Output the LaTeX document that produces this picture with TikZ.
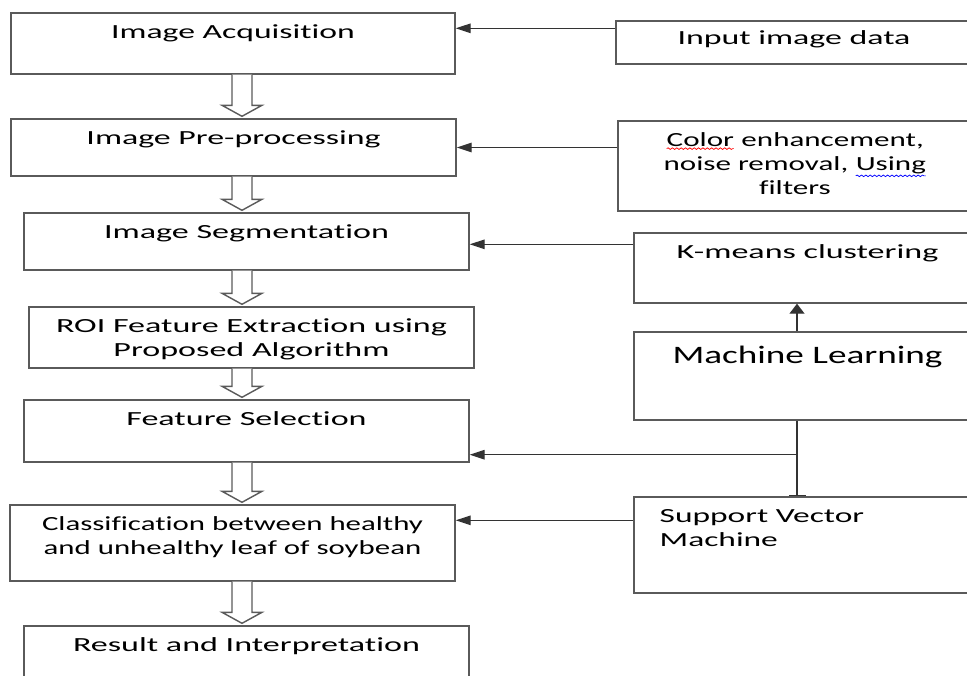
\documentclass[tikz,border=0pt]{standalone}
\usepackage{fontspec}
\setmainfont{Carlito}[Ligatures={NoCommon,NoContextual}, Contextuals=NoAlternate]
\usepackage{graphicx}
\usepackage{pgf, tikz}
\usetikzlibrary{arrows.meta,calc,decorations.pathmorphing}

\definecolor{edgegray}{HTML}{5A5A5A}
\definecolor{linegray}{HTML}{333333}

% wide text, as in the scanned figure: [align]{x-stretch}{text}
\newcommand{\wtxt}[3][c]{\scalebox{#2}[1]{\begin{tabular}{@{}#1@{}}#3\end{tabular}}}
% spell-check squiggle under a word
\newcommand{\wavy}[2]{\tikz[baseline=(w.base)]{\node[inner sep=0pt, outer sep=0pt] (w) {#2};
	\draw[#1, line width=0.35pt, decorate, decoration={snake, amplitude=0.45pt, segment length=1.6pt}] ([yshift=-1.2pt]w.south west) -- ([yshift=-1.2pt]w.south east);}}

\tikzset{
	box/.style={draw=edgegray, line width=0.8pt, inner sep=0pt},
	lbl/.style={anchor=north, inner sep=0pt, yshift=-0.18cm, font=\fontsize{11.4}{13.6}\selectfont},
	hconn/.style={draw=linegray, line width=0.8pt, -{Triangle[length=0.3cm,width=0.19cm]}},
	vconn/.style={draw=linegray, line width=0.8pt, -{Triangle[length=0.2cm,width=0.3cm]}},
	teeconn/.style={draw=linegray, line width=1pt, -{Bar[width=0.34cm]}},
	hollow/.style={draw=edgegray, line width=0.8pt, fill=white}
}

\begin{document}
\begin{tikzpicture}
	\useasboundingbox (0,0) rectangle (19.34,-13.5);
	
	% left column
	\node[box, minimum width=8.88cm, minimum height=1.22cm, label={[lbl]north:\wtxt{1.68}{Image Acquisition}}] (acq) at (4.66,-0.87) {};
	\node[box, minimum width=8.9cm, minimum height=1.14cm, label={[lbl]north:\wtxt{1.69}{Image Pre-processing}}] (pre) at (4.67,-2.95) {};
	\node[box, minimum width=8.9cm, minimum height=1.14cm, label={[lbl]north:\wtxt{1.7}{Image Segmentation}}] (seg) at (4.93,-4.83) {};
	\node[box, minimum width=8.9cm, minimum height=1.22cm, label={[lbl]north:\wtxt{1.7}{ROI Feature Extraction using\\Proposed Algorithm}}] (roi) at (5.03,-6.75) {};
	\node[box, minimum width=8.9cm, minimum height=1.24cm, label={[lbl]north:\wtxt{1.7}{Feature Selection}}] (fsel) at (4.93,-8.62) {};
	\node[box, minimum width=8.9cm, minimum height=1.52cm, label={[lbl]north:\wtxt{1.54}{Classification between healthy\\and unhealthy leaf of soybean}}] (cls) at (4.65,-10.86) {};
	\node[box, minimum width=8.9cm, minimum height=1.28cm, label={[lbl]north:\wtxt{1.7}{Result and Interpretation}}] (res) at (4.93,-13.16) {};
	
	% right column
	\node[box, minimum width=7.12cm, minimum height=0.86cm, label={[lbl, yshift=0.04cm]north:\wtxt{1.69}{Input image data}}] (inp) at (15.88,-0.85) {};
	\node[box, minimum width=7.08cm, minimum height=1.8cm, label={[lbl]north:\wtxt{1.55}{\wavy{red}{Color} enhancement,\\noise removal, \wavy{blue}{Using}\\filters}}] (col) at (15.9,-3.32) {};
	\node[box, minimum width=6.76cm, minimum height=1.4cm, label={[lbl, xshift=0.09cm]north:\wtxt{1.7}{K-means clustering}}] (km) at (16.06,-5.36) {};
	\node[box, minimum width=6.76cm, minimum height=1.76cm, label={[lbl, xshift=0.09cm, yshift=-0.04cm, font=\fontsize{14.3}{17}\selectfont]north:\wtxt{1.48}{Machine Learning}}] (ml) at (16.06,-7.52) {};
	\node[box, minimum width=6.76cm, minimum height=1.92cm, label={[lbl, anchor=north west, xshift=0.52cm]north west:\wtxt[l]{1.67}{Support Vector\\Machine}}] (svm) at (16.06,-10.9) {};
	
	% hollow arrows down the left column
	\foreach \a/\b in {acq/pre,pre/seg,seg/roi,roi/fsel,fsel/cls,cls/res}
		\draw[hollow] let \p1=(\a.south), \p2=(\b.north) in
			(4.64cm,\y1) -- (4.64cm,\y2+0.26cm) -- (4.44cm,\y2+0.26cm) -- (4.84cm,\y2+0.04cm)
			-- (5.24cm,\y2+0.26cm) -- (5.04cm,\y2+0.26cm) -- (5.04cm,\y1);
	
	% connectors
	\coordinate (inpin) at ($(inp.north west)+(0,-0.16)$);
	\draw[hconn] (inpin) -- (inpin -| acq.east);
	\draw[hconn] (pre.east -| col.west) -- (pre.east);
	\coordinate (kmin) at ($(km.north west)+(0,-0.24)$);
	\draw[hconn] (kmin) -- (kmin -| seg.east);
	\draw[vconn] ([xshift=-0.12cm]ml.north) -- ([xshift=-0.12cm]km.south);
	\coordinate (mlb) at ([xshift=-0.12cm]ml.south);
	\draw[teeconn] (mlb) -- ([xshift=-0.12cm]svm.north);
	\coordinate (br) at ($(fsel.south -| mlb)+(0,0.16)$);
	\draw[hconn] (br) -- (br -| fsel.east);
	\coordinate (svmin) at ($(svm.north west)+(0,-0.48)$);
	\draw[hconn] (svmin) -- (svmin -| cls.east);
\end{tikzpicture}
\end{document}
